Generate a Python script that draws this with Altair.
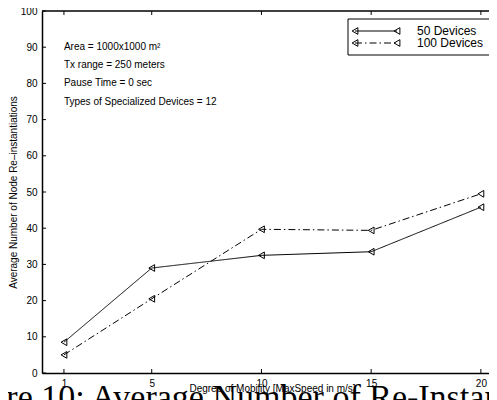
import altair as alt
import pandas as pd

# ---- data ----
speeds = [1, 5, 10, 15, 20]
dev50 = [8.5, 29.0, 32.5, 33.5, 45.8]
dev100 = [5.0, 20.5, 39.7, 39.4, 49.5]
series = ["50 Devices", "100 Devices"]
y_ticks = [0, 10, 20, 30, 40, 50, 60, 70, 80, 90, 100]
notes = ["Area = 1000x1000 m\u00b2", "Tx range = 250 meters",
         "Pause Time = 0 sec", "Types of Specialized Devices = 12"]
note_y = [90, 85, 80, 75]
note_x = [1, 1, 1, 1]
caption = ["Figure 10: Average Number of Re-Instantiations of Specialized Devices"]
x_domain = [0, 20.37]
y_domain = [0, 100]

FONT = "Liberation Sans"
W, H = 447, 362

df = pd.DataFrame({
    "speed": speeds * 2,
    "value": dev50 + dev100,
    "series": [series[0]] * len(speeds) + [series[1]] * len(speeds),
})
notes_df = pd.DataFrame({"speed": note_x, "value": note_y, "t": notes})
xt_df = pd.DataFrame({"speed": speeds})
yt_df = pd.DataFrame({"value": y_ticks})
leg_df = pd.DataFrame({"series": series, "ly": [20 + 12 * i for i in range(len(series))]})
cap_df = pd.DataFrame({"t": caption})

xscale = alt.Scale(domain=x_domain, nice=False, zero=False)
yscale = alt.Scale(domain=y_domain, nice=False)
dash = alt.Scale(domain=series, range=[[1, 0], [7, 3, 1.5, 3]])

xaxis = alt.Axis(values=speeds, title="Degree of Mobility [MaxSpeed in m/s]",
                 ticks=False, labelPadding=5, titleX=230, titleY=15,
                 titleBaseline="middle", titleAlign="center",
                 grid=False, domain=True, labelOverlap=False)
yaxis = alt.Axis(values=y_ticks, title="Average Number of Node Re\u2013instantiations",
                 ticks=False, labelPadding=5, titleX=-29, titleY=H / 2,
                 titleBaseline="middle", titleAlign="center", grid=False, domain=True,
                 labelOverlap=False)

X = alt.X("speed:Q", scale=xscale, axis=xaxis)
Y = alt.Y("value:Q", scale=yscale, axis=yaxis)

lines = alt.Chart(df).mark_line(color="black", strokeWidth=1).encode(
    x=X, y=Y,
    strokeDash=alt.StrokeDash("series:N", scale=dash, legend=None),
    detail="series:N",
)
points = alt.Chart(df).mark_point(shape="triangle-left", filled=False, color="black",
                                  size=45, strokeWidth=1, opacity=1).encode(x=X, y=Y)

# inward ticks and top frame line
xticks_b = alt.Chart(xt_df).mark_rule(color="black", strokeWidth=1).encode(
    x=X, y=alt.value(H), y2=alt.value(H - 4))
xticks_t = alt.Chart(xt_df).mark_rule(color="black", strokeWidth=1).encode(
    x=X, y=alt.value(0), y2=alt.value(4))
yticks_l = alt.Chart(yt_df).mark_rule(color="black", strokeWidth=1).encode(
    y=Y, x=alt.value(0), x2=alt.value(4))
top_line = alt.Chart(cap_df).mark_rule(color="black", strokeWidth=1.5).encode(
    x=alt.value(0), x2=alt.value(W), y=alt.value(0))

notes_layer = alt.Chart(notes_df).mark_text(align="left", baseline="middle",
                                            font=FONT, fontSize=10, color="black").encode(
    x=X, y=Y, text="t:N")

# legend box
leg_box = alt.Chart(cap_df).mark_rect(fill="white", stroke="black", strokeWidth=1).encode(
    x=alt.value(306), x2=alt.value(450), y=alt.value(8), y2=alt.value(44))
leg_lines = alt.Chart(leg_df).mark_rule(color="black", strokeWidth=1).encode(
    x=alt.value(313), x2=alt.value(355), y=alt.Y("ly:Q", scale=None),
    strokeDash=alt.StrokeDash("series:N", scale=dash, legend=None))
leg_pts_a = alt.Chart(leg_df).mark_point(shape="triangle-left", filled=False, color="black",
                                         size=45, strokeWidth=1, opacity=1).encode(
    x=alt.value(313), y=alt.Y("ly:Q", scale=None))
leg_pts_b = alt.Chart(leg_df).mark_point(shape="triangle-left", filled=False, color="black",
                                         size=45, strokeWidth=1, opacity=1).encode(
    x=alt.value(355), y=alt.Y("ly:Q", scale=None))
leg_text = alt.Chart(leg_df).mark_text(align="left", baseline="middle", font=FONT,
                                       fontSize=12, color="black").encode(
    x=alt.value(375), y=alt.Y("ly:Q", scale=None), text="series:N")

cap_layer = alt.Chart(cap_df).mark_text(align="left", baseline="alphabetic",
                                        font="Liberation Serif", fontSize=34,
                                        color="black").encode(
    x=alt.value(-98), y=alt.value(H + 35), text="t:N")

chart = alt.layer(
    lines, points, xticks_b, xticks_t, yticks_l, top_line, notes_layer,
    leg_box, leg_lines, leg_pts_a, leg_pts_b, leg_text, cap_layer
).properties(
    width=W, height=H,
    autosize=alt.AutoSizeParams(type="none"),
    padding={"left": 34, "top": 3, "right": 0, "bottom": 40},
    background="white",
).configure_view(
    stroke=None
).configure_axis(
    domainColor="black", domainWidth=1.5,
    labelFont=FONT, labelFontSize=10, labelColor="black",
    titleFont=FONT, titleFontSize=10, titleFontWeight="normal", titleColor="black",
)

chart.save("out.html", embed_options={"renderer": "svg", "actions": False})
